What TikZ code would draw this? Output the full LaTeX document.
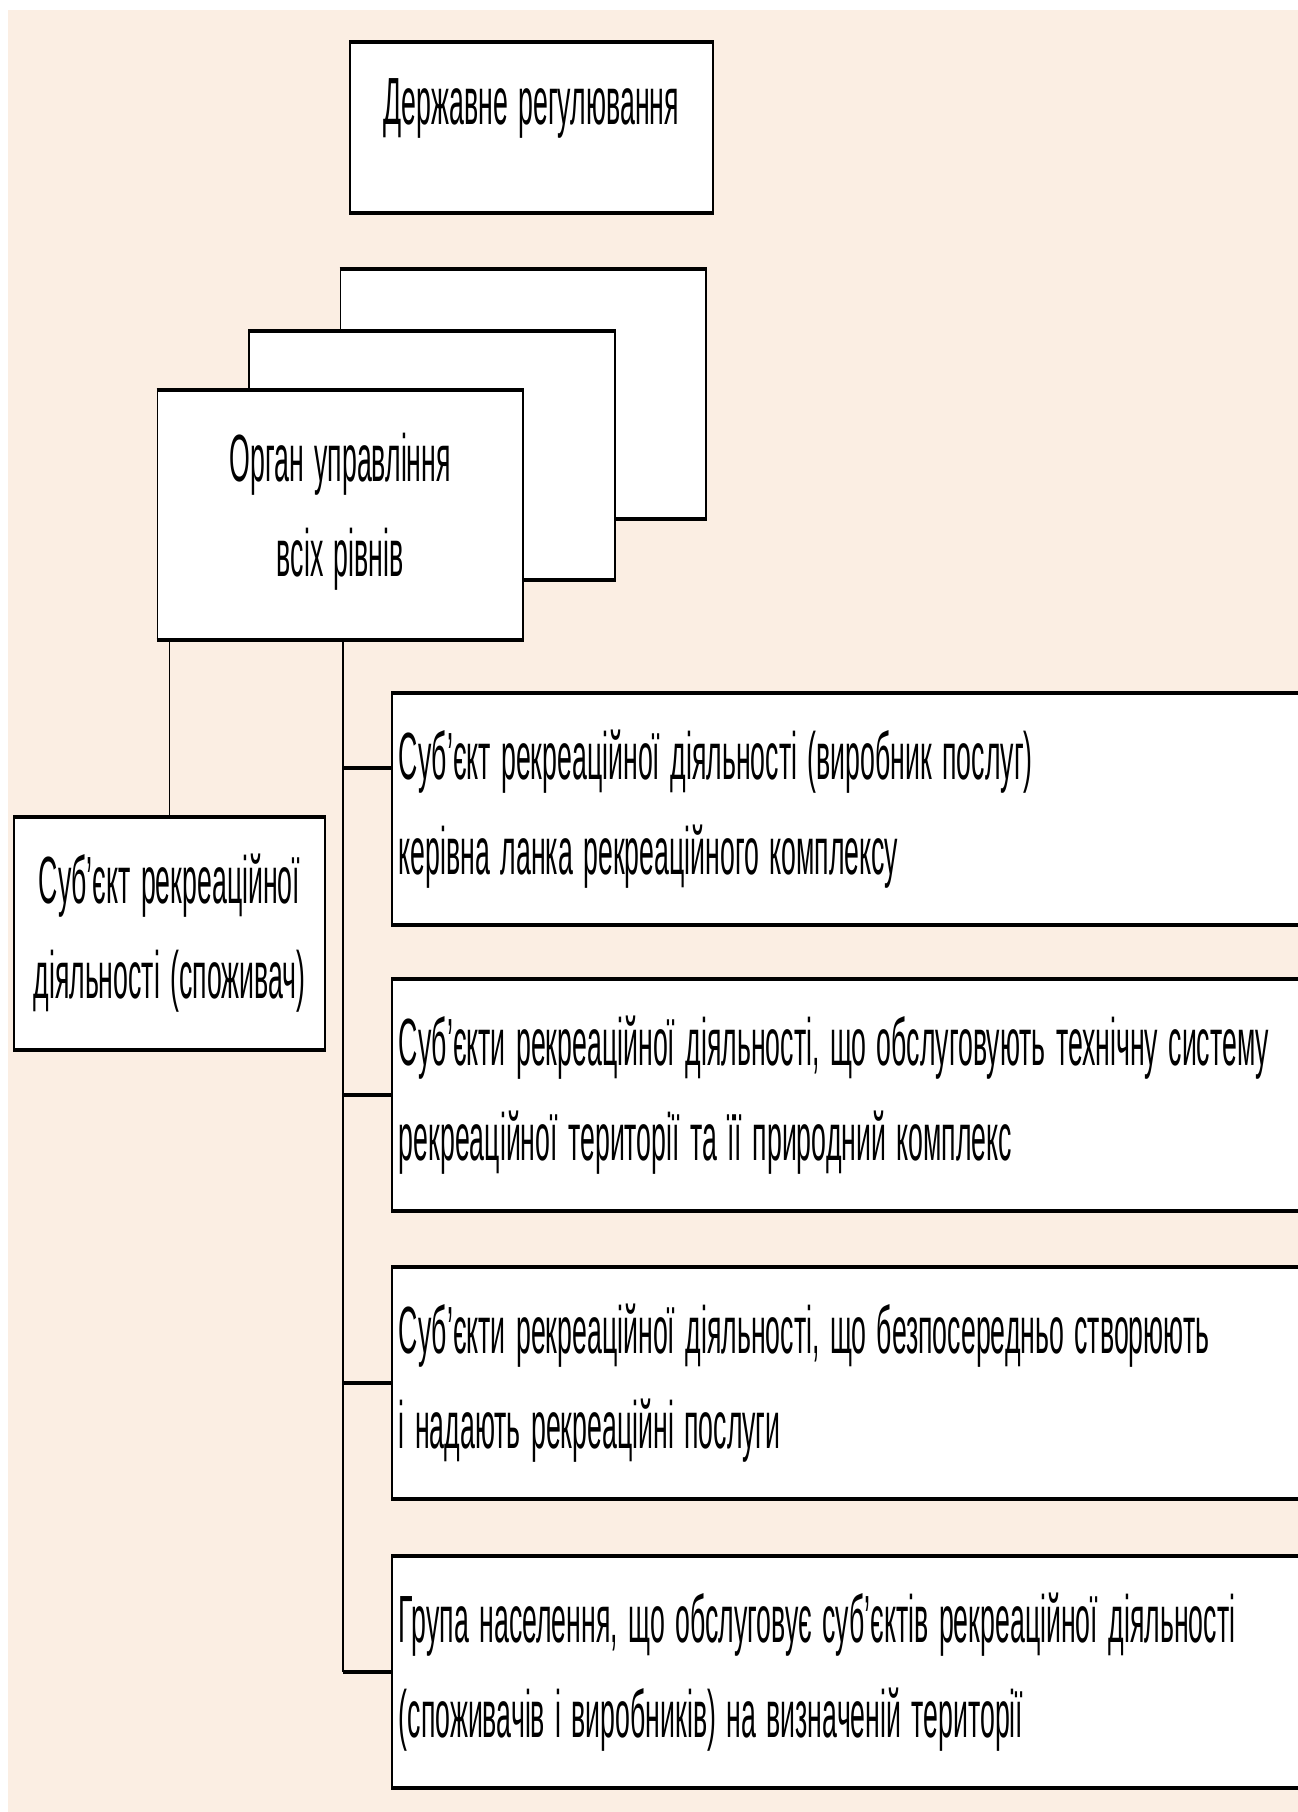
\documentclass[tikz,border=0pt]{standalone}
\usepackage{fontspec}
\setmainfont{Liberation Sans}[FakeStretch=0.40, WordSpace=1.4]
\usetikzlibrary{positioning,calc}
\definecolor{peach}{HTML}{FBEEE3}
\tikzset{
  box/.style={draw, line width=1pt, fill=white, inner sep=0pt, align=center,
    font=\fontsize{38}{54}\selectfont},
  wide/.style={box, anchor=west, minimum height=4.6cm, text width=20cm,
    align=flush left, inner xsep=0.14cm},
  stub/.style={line width=1pt},
  rung/.style={line width=2.3pt},
}
\begin{document}
\begin{tikzpicture}[x=0.02cm, y=-0.02cm]
\useasboundingbox (0,0) rectangle (1298,1812);
\clip (0,0) rectangle (1298,1812);
\fill[white] (0,0) rectangle (1298,1812);
\fill[peach] (8,10) rectangle (1298,1812);

\node[box, minimum width=7.26cm, minimum height=3.38cm] (gov) at (531.5,127.5) {\raisebox{30pt}{Державне регулювання}};

% stacked bodies
\foreach \n/\x/\y in {back/523.25/394, mid/432/455.5}{
  \node[box, minimum width=7.31cm, minimum height=4.96cm] (\n) at (\x,\y) {};
  \draw[rung] (\n.north west)--(\n.north east) (\n.south west)--(\n.south east);
}
\node[box, minimum width=7.31cm, minimum height=4.96cm] (organ) at (340.25,515) {Орган управління\\всіх рівнів\rule[-12pt]{0pt}{12pt}};

\node[box, minimum width=6.22cm, minimum height=4.62cm] (cons) at (169.5,933.5) {Суб’єкт рекреаційної\\діяльності (споживач)};

\node[wide] (s1) at (391,809) {Суб’єкт рекреаційної діяльності (виробник послуг)\\керівна ланка рекреаційного комплексу};
\node[wide] (s2) at (391,1095) {Суб’єкти рекреаційної діяльності, що обслуговують технічну систему\\рекреаційної території та її природний комплекс};
\node[wide] (s3) at (391,1383) {Суб’єкти рекреаційної діяльності, що безпосередньо створюють\\і надають рекреаційні послуги};
\node[wide] (s4) at (391,1672) {Група населення, що обслуговує суб’єктів рекреаційної діяльності\\(споживачів і виробників) на визначеній території};

\foreach \n in {gov,organ,cons,s1,s2,s3,s4}
  \draw[rung] (\n.north west)--(\n.north east) (\n.south west)--(\n.south east);

% links
\coordinate (trunk) at ($(organ.south west)+(186,0)$);
\draw[stub] (cons.north) -- (cons.north |- organ.south);
\draw[stub] (trunk) -- (trunk |- s4.west);
\draw[rung] (trunk |- s1.north west) ++(0,75) -- ($(s1.north west)+(0,75)$);
\foreach \n in {s2,s3,s4}
  \draw[rung] (trunk |- \n.west) -- (\n.west);
\end{tikzpicture}
\end{document}
